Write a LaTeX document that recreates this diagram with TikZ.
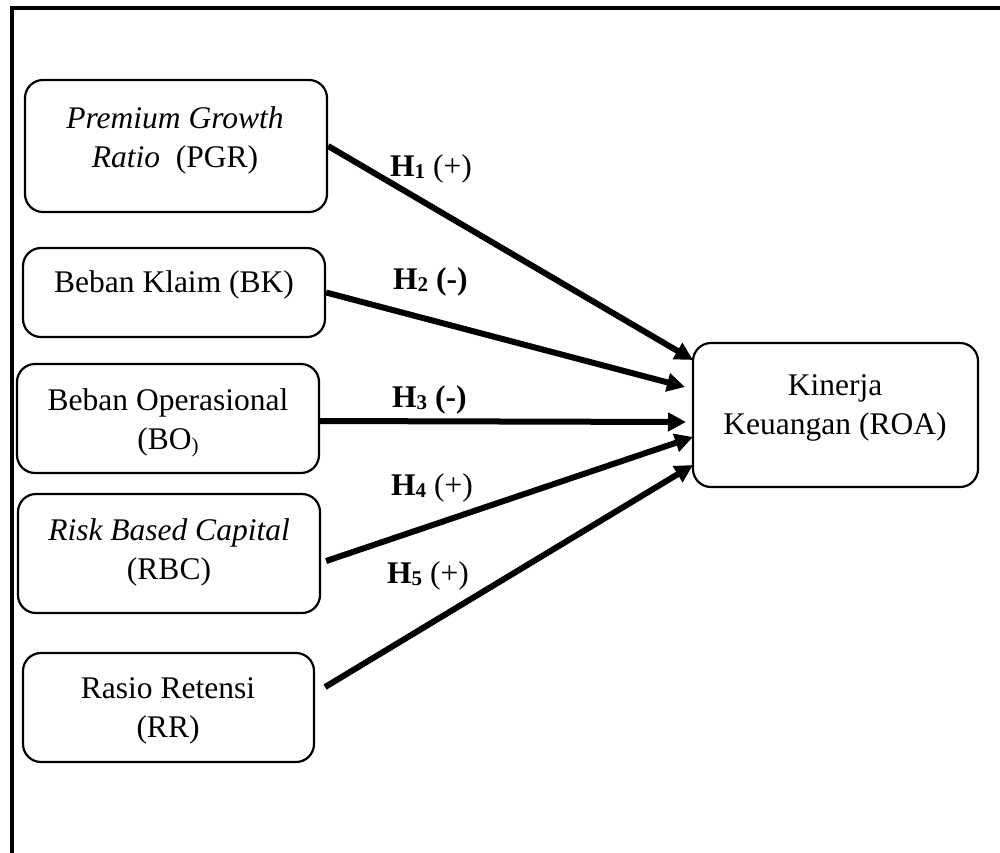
\documentclass[tikz,border=0pt]{standalone}
\usepackage{fontspec}
\setmainfont{Liberation Serif}
\usetikzlibrary{arrows.meta,calc}
\newcommand{\hsub}[1]{\raisebox{-2pt}{\fontsize{21}{21}\selectfont #1}}
\begin{document}
\begin{tikzpicture}[x=1pt,y=-1pt,
  box/.style={draw,line width=2.2pt,rounded corners=18pt,inner sep=0pt},
  txt/.style={anchor=base,inner sep=0pt,font=\fontsize{31.5}{39.5}\selectfont},
  hyp/.style={anchor=base west,inner sep=0pt,font=\fontsize{31.5}{39.5}\selectfont},
  link/.style={line width=6pt,-{Triangle[length=18pt,width=18pt]}}]
\useasboundingbox (0,0) rectangle (1000,852);
\clip (0,0) rectangle (1000,852);
\fill[white] (0,0) rectangle (1000,852);
\draw[line width=4pt] (11.5,880) -- (11.5,7.5) -- (1020,7.5);

% boxes
\node[box,minimum width=302pt,minimum height=132pt] (pgr) at (176,146) {};
\node[box,minimum width=302pt,minimum height=89pt] (bk) at (174,292.5) {};
\node[box,minimum width=302pt,minimum height=109pt] (bo) at (168,418.5) {};
\node[box,minimum width=302pt,minimum height=119pt] (rbc) at (169,553.5) {};
\node[box,minimum width=291pt,minimum height=109pt] (rr) at (168.5,707.5) {};
\node[box,minimum width=285pt,minimum height=144pt] (roa) at (835.5,415) {};

% texts
\node[txt] (tpgr) at (175,128) {\begin{tabular}[t]{@{}c@{}}\textit{Premium Growth}\\\textit{Ratio}\hspace{0.5em}(PGR)\end{tabular}};
\node[txt] (tbk) at (174,292) {Beban Klaim (BK)};
\node[txt] (tbo) at (168,410) {\begin{tabular}[t]{@{}c@{}}Beban Operasional\\(BO\raisebox{-3pt}{\fontsize{21}{21}\selectfont )}\end{tabular}};
\node[txt] (trbc) at (169,540) {\begin{tabular}[t]{@{}c@{}}\textit{Risk Based Capital}\\(RBC)\end{tabular}};
\node[txt] (trr) at (168,698) {\begin{tabular}[t]{@{}c@{}}Rasio Retensi\\(RR)\end{tabular}};
\node[txt] (troa) at (835,395) {\begin{tabular}[t]{@{}c@{}}Kinerja\\Keuangan (ROA)\end{tabular}};

% hypothesis labels
\node[hyp] (h1) at (390,176) {\textbf{H\hsub{1}} (+)};
\node[hyp] (h2) at (393,289) {\textbf{H\hsub{2} (-)}};
\node[hyp] (h3) at (392,407) {\textbf{H\hsub{3} (-)}};
\node[hyp] (h4) at (391,495) {\textbf{H\hsub{4}} (+)};
\node[hyp] (h5) at (387,583) {\textbf{H\hsub{5}} (+)};

% arrow ends
\coordinate (e1) at (693,360);
\coordinate (e2) at (685,387);
\coordinate (e3) at (686,422);
\coordinate (e4) at (693,437);
\coordinate (e5) at (693,465);

\draw[link] (pgr.east) -- (e1);
\draw[link] (bk.east) -- (e2);
\draw[link] ($(bo.east)+(0,2.5)$) -- (e3);
\draw[link] ($(rbc.east)+(5,7.5)$) -- (e4);
\draw[link] ($(rr.east)+(10,-20.5)$) -- (e5);
\end{tikzpicture}
\end{document}
